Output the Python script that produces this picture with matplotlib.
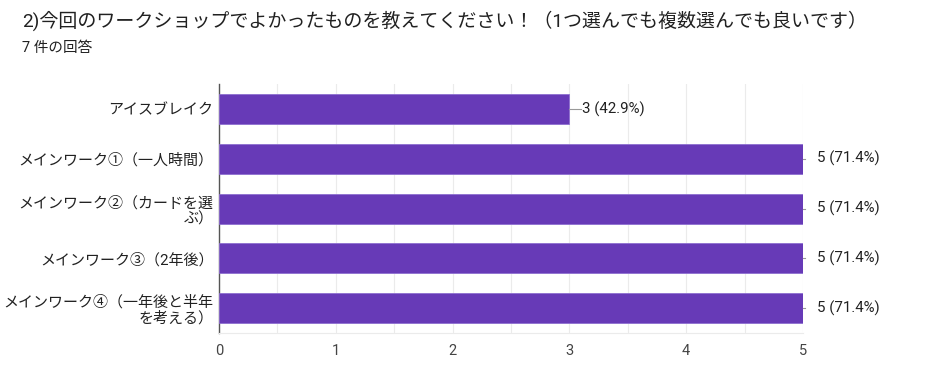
import matplotlib.pyplot as plt
import numpy as np

plt.rcParams['font.family'] = ['Roboto', 'Noto Sans CJK JP', 'DejaVu Sans']

title = "2)今回のワークショップでよかったものを教えてください！（1つ選んでも複数選んでも良いです）"
subtitle = "7 件の回答"
categories = [
    "アイスブレイク",
    "メインワーク①（一人時間）",
    "メインワーク②（カードを選\nぶ）",
    "メインワーク③（2年後）",
    "メインワーク④（一年後と半年\nを考える）",
]
counts = [3, 5, 5, 5, 5]
total = 7

bar_color = "#673ab7"
text_color = "#212121"

fig = plt.figure(figsize=(9.43, 3.82), dpi=100)
ax = fig.add_axes([0.2322, 0.128, 0.6193, 0.652])

y = np.arange(len(categories))
ax.barh(y, counts, height=0.6, color=bar_color, edgecolor="#8e6fd0", linewidth=0.6, zorder=3)

ax.set_xlim(0, 5)
ax.set_ylim(len(categories) - 0.5, -0.5)
ax.set_yticks(y)
ax.set_yticklabels(categories, fontsize=10.8, color=text_color, linespacing=1.15)
ax.set_xticks(range(0, 6))
ax.set_xticks(np.arange(0.5, 5, 1), minor=True)
ax.tick_params(axis="x", which="both", length=0, labelsize=10.5, labelcolor="#444444", pad=8)
ax.tick_params(axis="y", length=0, pad=4)
ax.grid(axis="x", which="both", color="#ebebeb", linewidth=0.8, zorder=0)

for s in ["top", "right"]:
    ax.spines[s].set_visible(False)
ax.spines["bottom"].set_color("#ebebeb")
ax.spines["left"].set_color("#555555")
ax.spines["left"].set_linewidth(1.0)

for yi, c in zip(y, counts):
    label = f"{c} ({c / total * 100:.1f}%)"
    if c < 5:
        ax.plot([c, c + 0.1], [yi, yi], color="#999999", linewidth=0.8, zorder=4, clip_on=False)
        ax.text(c + 0.11, yi, label, va="center", ha="left", fontsize=10.8, color=text_color)
    else:
        ax.plot([c, c + 0.02], [yi, yi], color="#999999", linewidth=0.8, zorder=4, clip_on=False)
        ax.text(c + 0.12, yi, label, va="center", ha="left", fontsize=10.8, color=text_color)

fig.text(0.0235, 0.945, title, fontsize=13.7, color=text_color, va="center", ha="left")
fig.text(0.0235, 0.875, subtitle, fontsize=10.5, color=text_color, va="center", ha="left")

fig.savefig("out.png", dpi=100, facecolor="white")
